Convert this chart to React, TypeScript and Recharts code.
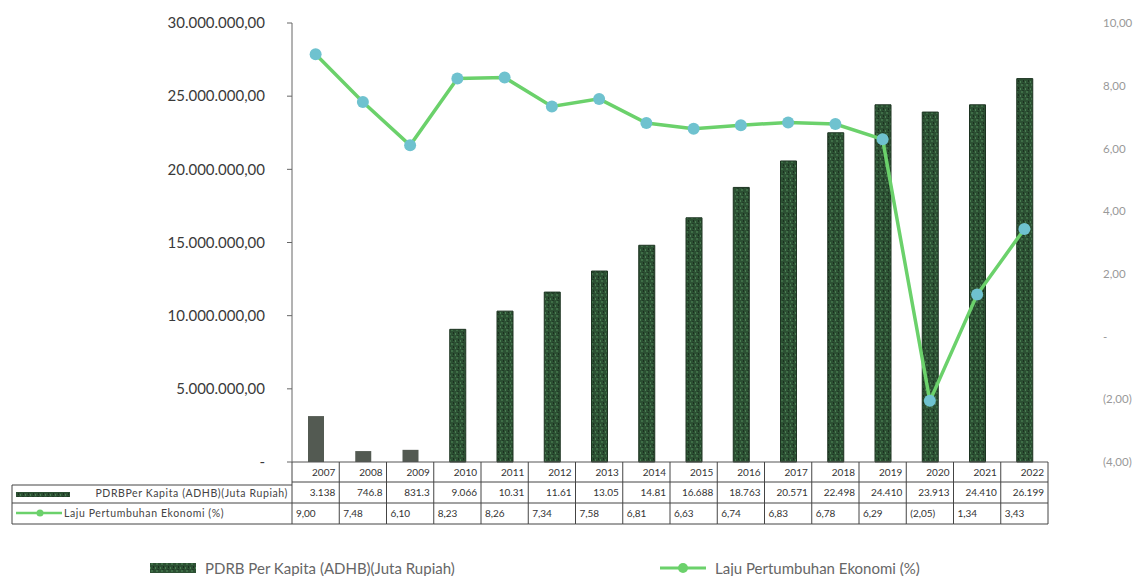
import { ComposedChart, Bar, Line, XAxis, YAxis, Cell } from "recharts"

const years = ["2007", "2008", "2009", "2010", "2011", "2012", "2013", "2014", "2015", "2016", "2017", "2018", "2019", "2020", "2021", "2022"]
const pdrb = [3138000, 746800, 831300, 9066000, 10310000, 11610000, 13050000, 14810000, 16688000, 18763000, 20571000, 22498000, 24410000, 23913000, 24410000, 26199000]
const pdrbText = ["3.138", "746.8", "831.3", "9.066", "10.31", "11.61", "13.05", "14.81", "16.688", "18.763", "20.571", "22.498", "24.410", "23.913", "24.410", "26.199"]
const growth = [9.0, 7.48, 6.1, 8.23, 8.26, 7.34, 7.58, 6.81, 6.63, 6.74, 6.83, 6.78, 6.29, -2.05, 1.34, 3.43]
const greyYears = ["2007", "2008", "2009"]

const leftTicks = [0, 5000000, 10000000, 15000000, 20000000, 25000000, 30000000]
const rightTicks = [-4, -2, 0, 2, 4, 6, 8, 10]

const barName = "PDRB Per Kapita (ADHB)(Juta Rupiah)"
const lineName = "Laju Pertumbuhan Ekonomi (%)"
const tableBarLabel = "PDRBPer Kapita (ADHB)(Juta Rupiah)"

const data = years.map((year, i) => ({ year, pdrb: pdrb[i], growth: growth[i] }))

const FONT = "Lato, 'Open Sans', sans-serif"
const LINE_GREEN = "#6bd16b"
const DOT_BLUE = "#6fc2cf"
const PLOT_LEFT = 292
const PLOT_RIGHT = 1048
const COL_W = (PLOT_RIGHT - PLOT_LEFT) / years.length

function fmtRupiah(v: number) {
  if (v === 0) return "-"
  const s = Math.round(v).toString().replace(/\B(?=(\d{3})+(?!\d))/g, ".")
  return s + ",00"
}

function fmtPct(v: number) {
  if (v === 0) return "-"
  const s = Math.abs(v).toFixed(2).replace(".", ",")
  return v < 0 ? `(${s})` : s
}

// mottled green fill used by the bars and the legend swatch
function Texture({ id }: { id: string }) {
  return (
    <pattern id={id} width="5" height="7" patternUnits="userSpaceOnUse">
      <rect width="5" height="7" fill="#2c5033" />
      <rect x="1" y="0" width="2" height="2" fill="#3f6e47" />
      <rect x="3" y="3" width="1" height="2" fill="#1b311f" />
      <rect x="0" y="4" width="1" height="2" fill="#4a7d52" />
      <rect x="2" y="6" width="2" height="1" fill="#223d27" />
    </pattern>
  )
}

function TableTick(props: any) {
  const { x, y, index } = props
  const left = x - COL_W / 2
  const right = x + COL_W / 2
  const r1 = y + 20
  const r2 = y + 41
  const r3 = y + 62
  const stroke = "#444"
  return (
    <g fontFamily={FONT}>
      <line x1={right} y1={y} x2={right} y2={r3} stroke={stroke} />
      <line x1={left} y1={r1} x2={right} y2={r1} stroke={stroke} />
      <line x1={left} y1={r2} x2={right} y2={r2} stroke={stroke} />
      <line x1={left} y1={r3} x2={right} y2={r3} stroke={stroke} />
      <text x={right - 4} y={y + 14} textAnchor="end" fontSize={10} fill="#333">{years[index]}</text>
      <text x={right - 4} y={r1 + 14} textAnchor="end" fontSize={10} fill="#333">{pdrbText[index]}</text>
      <text x={left + 4} y={r2 + 14} textAnchor="start" fontSize={10} fill="#333">{fmtPct(growth[index])}</text>
      {index === 0 && (
        <g>
          <line x1={left} y1={y} x2={left} y2={r3} stroke={stroke} />
          <line x1={12} y1={r1 + 3} x2={left} y2={r1 + 3} stroke={stroke} />
          <line x1={12} y1={r2} x2={left} y2={r2} stroke={stroke} />
          <line x1={12} y1={r3} x2={left} y2={r3} stroke={stroke} />
          <line x1={12} y1={r1 + 3} x2={12} y2={r3} stroke={stroke} />
          <rect x={16} y={r1 + 10} width={54} height={5} fill="url(#barTex)" />
          <text x={left - 4} y={r1 + 15} textAnchor="end" fontSize={10.5} letterSpacing={0.6} fill="#444">{tableBarLabel}</text>
          <line x1={16} y1={r2 + 10} x2={62} y2={r2 + 10} stroke={LINE_GREEN} strokeWidth={2.5} />
          <circle cx={40} cy={r2 + 10} r={3.5} fill={LINE_GREEN} />
          <text x={64} y={r2 + 14} textAnchor="start" fontSize={10.5} letterSpacing={0.6} fill="#444">{lineName}</text>
        </g>
      )}
    </g>
  )
}

export default function App() {
  return (
    <div style={{ position: "relative", width: 1148, height: 584, margin: -8, background: "#fff", fontFamily: FONT }}>
      <ComposedChart width={1148} height={530} data={data} margin={{ top: 23, right: 0, left: 0, bottom: 0 }}>
        <defs>
          <Texture id="barTex" />
        </defs>
        <XAxis
          dataKey="year"
          xAxisId="x"
          height={68}
          tickSize={0}
          tickLine={false}
          tickMargin={0}
          interval={0}
          axisLine={{ stroke: "#555" }}
          tick={<TableTick />}
        />
        <YAxis
          yAxisId="left"
          width={PLOT_LEFT}
          domain={[0, 30000000]}
          ticks={leftTicks}
          tickFormatter={fmtRupiah}
          tickSize={5}
          tickMargin={22}
          axisLine={{ stroke: "#666" }}
          tickLine={{ stroke: "#666" }}
          tick={{ fontSize: 15, fill: "#3a3a3a", fontFamily: FONT }}
        />
        <YAxis
          yAxisId="right"
          orientation="right"
          width={1148 - PLOT_RIGHT}
          domain={[-4, 10]}
          ticks={rightTicks}
          tickFormatter={fmtPct}
          axisLine={false}
          tickLine={false}
          tickSize={6}
          tickMargin={49}
          tick={{ fontSize: 11.5, fill: "#999", fontFamily: FONT, textAnchor: "start" }}
        />
        <Bar dataKey="pdrb" name={barName} xAxisId="x" yAxisId="left" barSize={16} isAnimationActive={false}>
          {data.map((d) => (
            <Cell
              key={d.year}
              fill={greyYears.includes(d.year) ? "#535a52" : "url(#barTex)"}
              stroke={greyYears.includes(d.year) ? "none" : "#1c3321"}
            />
          ))}
        </Bar>
        <Line
          dataKey="growth"
          name={lineName}
          xAxisId="x"
          yAxisId="right"
          stroke={LINE_GREEN}
          strokeWidth={3.5}
          dot={{ r: 6, fill: DOT_BLUE, stroke: "none" }}
          isAnimationActive={false}
        />
      </ComposedChart>
      <div style={{ position: "absolute", left: 150, top: 559, display: "flex", alignItems: "center", fontSize: 15, color: "#666" }}>
        <svg width={46} height={10} style={{ display: "block" }}>
          <defs>
            <Texture id="legTex" />
          </defs>
          <rect width={46} height={10} fill="url(#legTex)" />
        </svg>
        <span style={{ marginLeft: 9 }}>{barName}</span>
      </div>
      <div style={{ position: "absolute", left: 660, top: 559, display: "flex", alignItems: "center", fontSize: 15, color: "#666" }}>
        <svg width={46} height={12} style={{ display: "block" }}>
          <line x1={0} y1={6} x2={46} y2={6} stroke={LINE_GREEN} strokeWidth={3} />
          <circle cx={23} cy={6} r={5} fill={LINE_GREEN} />
        </svg>
        <span style={{ marginLeft: 9 }}>{lineName}</span>
      </div>
    </div>
  )
}
